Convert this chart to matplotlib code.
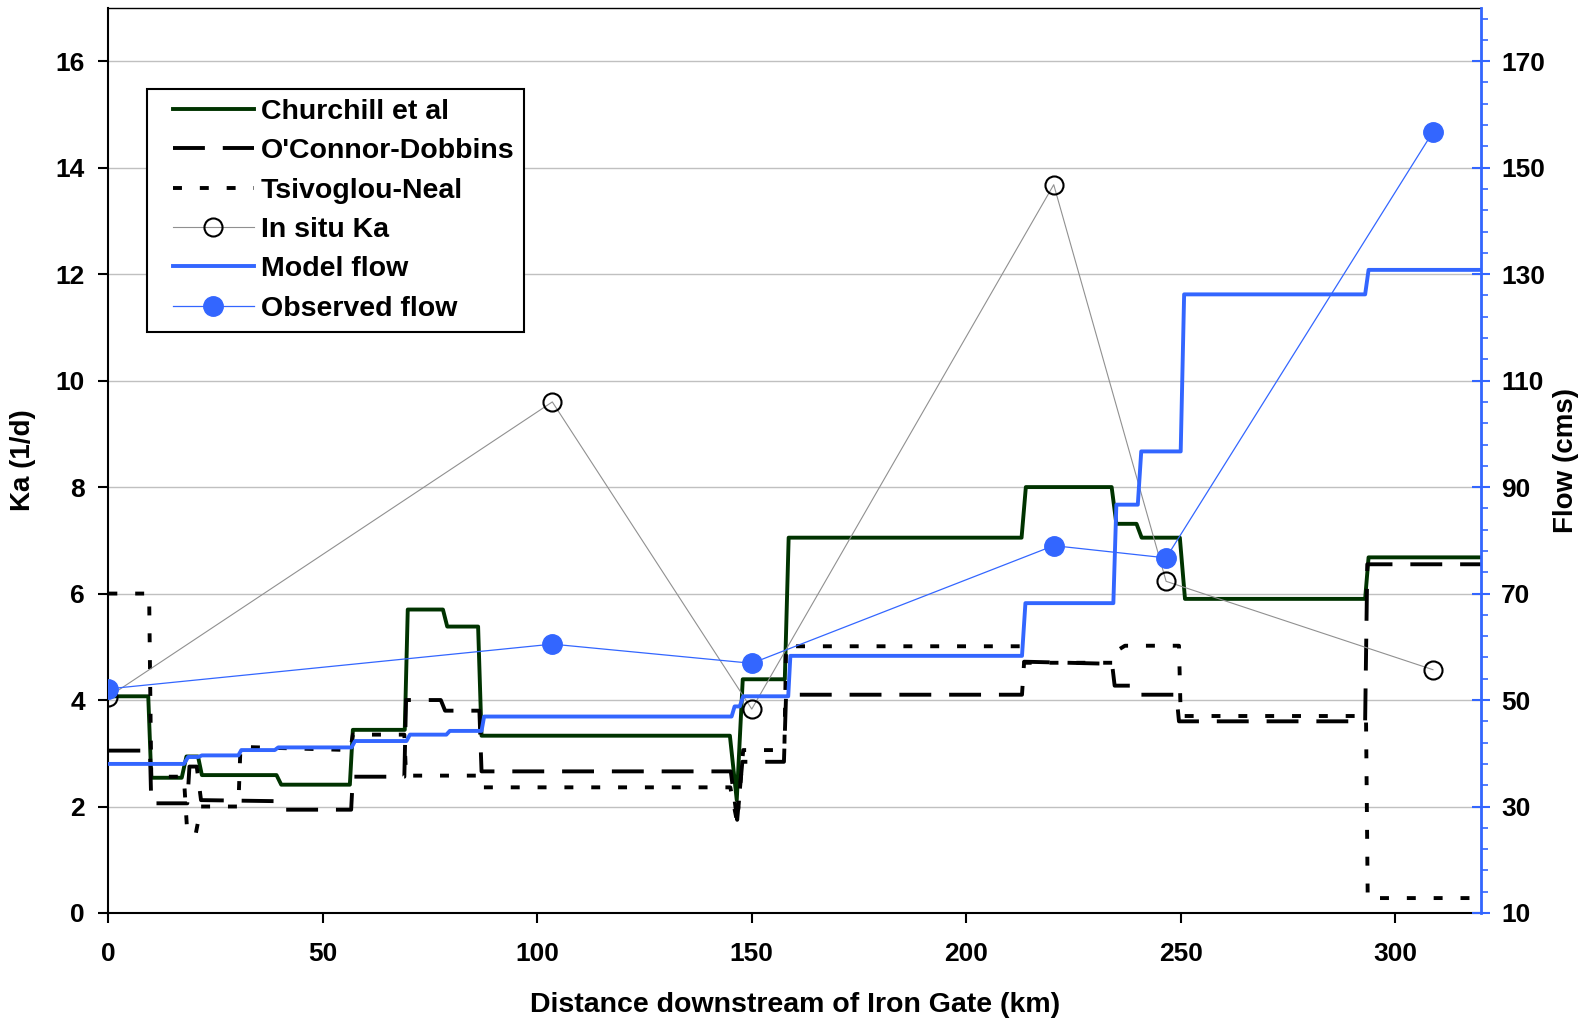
import numpy as np
import matplotlib.pyplot as plt
from matplotlib.legend_handler import HandlerLine2D

plt.rcParams['font.family'] = ['Liberation Sans', 'DejaVu Sans']
plt.rcParams['font.weight'] = 'bold'

#################################################
# DATA
#################################################

# Churchill et al (km, Ka 1/d)
km_ch = [0, 9.3, 10.0, 17.1, 18.2, 20.9, 21.8, 39.2, 40.3, 56.3, 57.0, 69.1, 69.8, 78.0, 79.0,
         86.2, 87.0, 144.9, 146.5, 147.9, 157.7, 158.6, 212.9, 213.9, 233.9, 235.0, 239.7,
         240.9, 249.8, 251.0, 293.0, 293.8, 320]
ka_ch = [4.07, 4.07, 2.54, 2.54, 2.94, 2.94, 2.59, 2.59, 2.41, 2.41, 3.44, 3.44, 5.70, 5.70, 5.38,
         5.38, 3.33, 3.33, 2.12, 4.39, 4.39, 7.05, 7.05, 8.00, 8.00, 7.31, 7.31,
         7.05, 7.05, 5.90, 5.90, 6.68, 6.68]

# O'Connor-Dobbins
km_od = [0, 9.7, 10.0, 18.4, 18.9, 20.6, 21.6, 39.5, 40.5, 56.6, 57.0, 69.0, 69.4, 77.5, 78.5,
         86.5, 87.0, 145.1, 146.6, 147.8, 157.5, 158.0, 213.0, 213.5, 234.0, 234.6, 239.5,
         240.3, 249.0, 249.6, 293.0, 293.5, 320]
ka_od = [3.05, 3.05, 2.06, 2.06, 2.75, 2.75, 2.12, 2.10, 1.94, 1.94, 2.56, 2.56, 4.00, 4.00, 3.80,
         3.80, 2.66, 2.66, 1.75, 2.84, 2.84, 4.10, 4.10, 4.72, 4.68, 4.27, 4.27,
         4.10, 4.10, 3.60, 3.60, 6.55, 6.55]

# Tsivoglou-Neal
km_tn = [0, 9.5, 10.0, 17.6, 18.4, 20.4, 21.6, 30.3, 30.8, 56.4, 57.0, 69.0, 69.4, 86.3, 86.8,
         145.0, 146.6, 148.0, 157.6, 158.0, 213.2, 213.6, 234.3, 234.8, 237.0, 249.6, 250.0,
         293.2, 293.6, 320]
ka_tn = [6.00, 6.00, 2.56, 2.56, 1.50, 1.50, 2.00, 2.00, 3.12, 3.06, 3.35, 3.35, 2.58, 2.58, 2.36,
         2.36, 1.70, 3.06, 3.06, 5.01, 5.01, 4.70, 4.70, 4.91, 5.02, 5.02, 3.70,
         3.70, 0.28, 0.28]

# in situ Ka
km_situ = [0, 103.5, 150, 220.4, 246.6, 308.8]
ka_situ = [4.06, 9.6, 3.83, 13.68, 6.23, 4.57]

# model flow (cms)
km_flow = [0, 17.6, 18.6, 21.0, 21.8, 30.3, 31.0, 38.8, 39.6, 56.7, 57.5, 69.5, 70.3, 78.8, 79.6,
           87.0, 87.6, 145.3, 146.0, 147.2, 148.0, 158.5, 159.0, 213.0, 213.8, 234.3, 235.0,
           240.0, 240.8, 250.0, 250.8, 293.0, 293.8, 320]
q_model = [38.0, 38.0, 39.3, 39.3, 39.6, 39.6, 40.6, 40.6, 41.1, 41.1, 42.3, 42.3, 43.5, 43.5, 44.2,
           44.2, 46.9, 46.9, 48.8, 48.8, 50.7, 50.7, 58.3, 58.3, 68.2, 68.2, 86.7,
           86.7, 96.7, 96.7, 126.2, 126.2, 130.8, 130.8]

# observed flow
km_obs = [0, 103.5, 150, 220.4, 246.6, 308.8]
q_obs = [52.1, 60.5, 56.9, 79.0, 76.7, 156.7]

green = '#003300'
blue = '#3366FF'

#################################################
# PLOT
#################################################

fig = plt.figure(figsize=(15.89, 10.21), dpi=100)
ax = fig.add_axes([0.0682, 0.1058, 0.8638, 0.8864])
ax2 = ax.twinx()

l1, = ax.plot(km_ch, ka_ch, color=green, lw=2.8, label='Churchill et al')
l2, = ax.plot(km_od, ka_od, color='black', lw=2.8, dashes=(8.2, 4.6), label="O'Connor-Dobbins")
l3, = ax.plot(km_tn, ka_tn, color='black', lw=2.8, dashes=(2.3, 4.6), label='Tsivoglou-Neal')
l4, = ax.plot(km_situ, ka_situ, color='#909090', lw=0.8, marker='o', ms=13, mfc='none',
              mec='black', mew=1.5, label='In situ Ka')

l5, = ax2.plot(km_flow, q_model, color=blue, lw=2.8, label='Model flow')
l6, = ax2.plot(km_obs, q_obs, color=blue, lw=0.9, marker='o', ms=14, mec=blue, mfc=blue,
               label='Observed flow')

ax.set_xlim(0, 320)
ax.set_ylim(0, 17)
ax2.set_ylim(10, 180)

ax.set_xticks(np.arange(0, 301, 50))
ax.set_yticks(np.arange(0, 17, 2))
ax2.set_yticks(np.arange(10, 171, 20))
ax2.set_yticks(np.arange(10, 181, 4), minor=True)

ax.yaxis.grid(True, color='#c0c0c0', lw=1)
ax.set_axisbelow(True)

ax.tick_params(axis='both', labelsize=19, direction='out', length=7, width=1.5, pad=10)
ax.tick_params(axis='x', pad=14)
ax2.tick_params(axis='y', which='major', labelsize=19, direction='inout', length=13,
                width=1.5, color=blue, pad=8)
ax2.tick_params(axis='y', which='minor', direction='out', length=5, width=1.2, color=blue)

for s in ['left', 'bottom']:
    ax.spines[s].set_linewidth(1.5)
ax.spines['top'].set_linewidth(1.0)
ax2.spines['right'].set_color(blue)
ax2.spines['right'].set_linewidth(2.0)
ax2.spines['left'].set_visible(False)
ax2.spines['top'].set_visible(False)
ax2.spines['bottom'].set_visible(False)

ax.set_xlabel('Distance downstream of Iron Gate (km)', fontsize=20.5, fontweight='bold')
ax.set_ylabel('Ka (1/d)', fontsize=20, fontweight='bold')
ax2.set_ylabel('Flow (cms)', fontsize=20, fontweight='bold')
ax.xaxis.set_label_coords(0.5, -0.087)
ax.yaxis.set_label_coords(-0.053, 0.5)
ax2.yaxis.set_label_coords(1.0525, 0.5)

handles = [l1, l2, l3, l4, l5, l6]
leg = ax2.legend(handles=handles, loc='upper left', bbox_to_anchor=(0.0281, 0.9105),
                 borderaxespad=0, fontsize=20.5, frameon=True, fancybox=False,
                 edgecolor='black', framealpha=1, handlelength=3.4, handletextpad=0.25,
                 labelspacing=0.47, borderpad=0.35,
                 handler_map={h: HandlerLine2D(xpad=0.55, numpoints=1) for h in handles})
leg.get_frame().set_linewidth(1.5)
for t in leg.get_texts():
    t.set_fontweight('bold')

plt.savefig('out.png', dpi=100)
